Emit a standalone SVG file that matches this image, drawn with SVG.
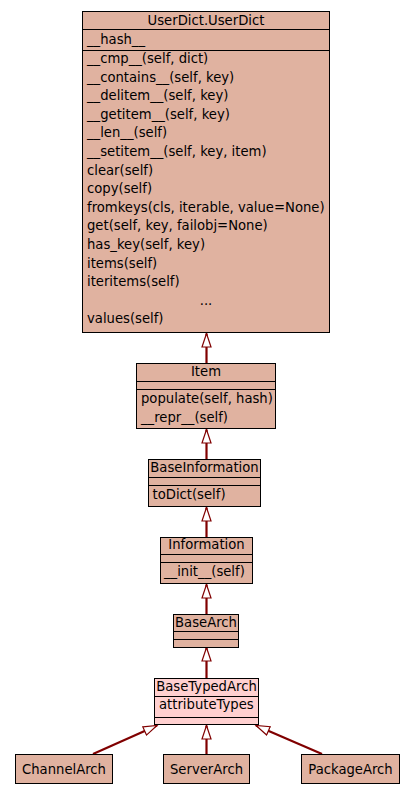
<svg xmlns="http://www.w3.org/2000/svg" width="416" height="795" viewBox="0 0 416 795">
<style>
text{font-family:"DejaVu Sans",sans-serif;font-size:13.2px;fill:#000}
.t{text-anchor:middle}
.box{fill:#e0b2a0;stroke:#000;stroke-width:1}
.box2{fill:#ffd0d0;stroke:#000;stroke-width:1}
.sep{stroke:#000;stroke-width:1}
.edge{stroke:#800000;stroke-width:2.2;fill:none;marker-end:url(#inh)}
</style>
<defs>
<marker id="inh" markerUnits="userSpaceOnUse" markerWidth="16" markerHeight="12" refX="14.5" refY="5.5" orient="auto">
<path d="M1,1 L14.5,5.5 L1,10 Z" fill="#fff" stroke="#800000" stroke-width="1.2"/>
</marker>
</defs>
<rect width="416" height="795" fill="#fff"/>
<g id="connectors">
<line class="edge" x1="206.5" y1="363" x2="206.5" y2="333.5"/>
<line class="edge" x1="206.5" y1="459" x2="206.5" y2="429.5"/>
<line class="edge" x1="206.5" y1="537" x2="206.5" y2="507.5"/>
<line class="edge" x1="206.5" y1="614" x2="206.5" y2="584.5"/>
<line class="edge" x1="206.5" y1="678" x2="206.5" y2="647.5"/>
<line class="edge" x1="93" y1="754" x2="157" y2="725.5"/>
<line class="edge" x1="206.5" y1="754" x2="206.5" y2="725.5"/>
<line class="edge" x1="322" y1="754" x2="256" y2="725.5"/>
</g>
<g id="UserDict">
<rect class="box" x="82.5" y="11.5" width="247" height="321"/>
<line class="sep" x1="82.5" y1="29.5" x2="329.5" y2="29.5"/>
<line class="sep" x1="82.5" y1="50.5" x2="329.5" y2="50.5"/>
<text class="t" x="206" y="24.5">UserDict.UserDict</text>
<text x="87" y="44">__hash__</text>
<text x="87" y="63">__cmp__(self, dict)</text>
<text x="87" y="81.6">__contains__(self, key)</text>
<text x="87" y="100.2">__delitem__(self, key)</text>
<text x="87" y="118.8">__getitem__(self, key)</text>
<text x="87" y="137.4">__len__(self)</text>
<text x="87" y="156">__setitem__(self, key, item)</text>
<text x="87" y="174.6">clear(self)</text>
<text x="87" y="193.2">copy(self)</text>
<text x="87" y="211.8">fromkeys(cls, iterable, value=None)</text>
<text x="87" y="230.4">get(self, key, failobj=None)</text>
<text x="87" y="249">has_key(self, key)</text>
<text x="87" y="267.6">items(self)</text>
<text x="87" y="286.2">iteritems(self)</text>
<text class="t" x="206" y="304.8">...</text>
<text x="87" y="323.4">values(self)</text>
</g>
<g id="Item">
<rect class="box" x="136.5" y="363.5" width="139" height="65"/>
<line class="sep" x1="136.5" y1="381.5" x2="275.5" y2="381.5"/>
<line class="sep" x1="136.5" y1="389.5" x2="275.5" y2="389.5"/>
<text class="t" x="206" y="375.5">Item</text>
<text x="141" y="403">populate(self, hash)</text>
<text x="141" y="421.5">__repr__(self)</text>
</g>
<g id="BaseInformation">
<rect class="box" x="148.5" y="459.5" width="112" height="47"/>
<line class="sep" x1="148.5" y1="477.5" x2="260.5" y2="477.5"/>
<line class="sep" x1="148.5" y1="485.5" x2="260.5" y2="485.5"/>
<text class="t" x="204.5" y="471.5">BaseInformation</text>
<text x="152.5" y="498.5">toDict(self)</text>
</g>
<g id="Information">
<rect class="box" x="160.5" y="537.5" width="92" height="46"/>
<line class="sep" x1="160.5" y1="554.5" x2="252.5" y2="554.5"/>
<line class="sep" x1="160.5" y1="562.5" x2="252.5" y2="562.5"/>
<text class="t" x="206.5" y="549">Information</text>
<text x="164" y="576">__init__(self)</text>
</g>
<g id="BaseArch">
<rect class="box" x="173.5" y="614.5" width="65" height="33"/>
<line class="sep" x1="173.5" y1="631.5" x2="238.5" y2="631.5"/>
<line class="sep" x1="173.5" y1="639.5" x2="238.5" y2="639.5"/>
<text class="t" x="206" y="626.5">BaseArch</text>
</g>
<g id="BaseTypedArch">
<rect class="box2" x="154.5" y="678.5" width="104" height="46"/>
<line class="sep" x1="154.5" y1="696.5" x2="258.5" y2="696.5"/>
<line class="sep" x1="154.5" y1="717.5" x2="258.5" y2="717.5"/>
<text class="t" x="206.5" y="690.5">BaseTypedArch</text>
<text x="159" y="708.5">attributeTypes</text>
</g>
<g id="ChannelArch">
<rect class="box" x="15.5" y="754.5" width="97" height="29"/>
<text class="t" x="64" y="773.5">ChannelArch</text>
</g>
<g id="ServerArch">
<rect class="box" x="163.5" y="754.5" width="86" height="29"/>
<text class="t" x="206.5" y="773.5">ServerArch</text>
</g>
<g id="PackageArch">
<rect class="box" x="301.5" y="754.5" width="98" height="29"/>
<text class="t" x="350.5" y="773.5">PackageArch</text>
</g>
</svg>
